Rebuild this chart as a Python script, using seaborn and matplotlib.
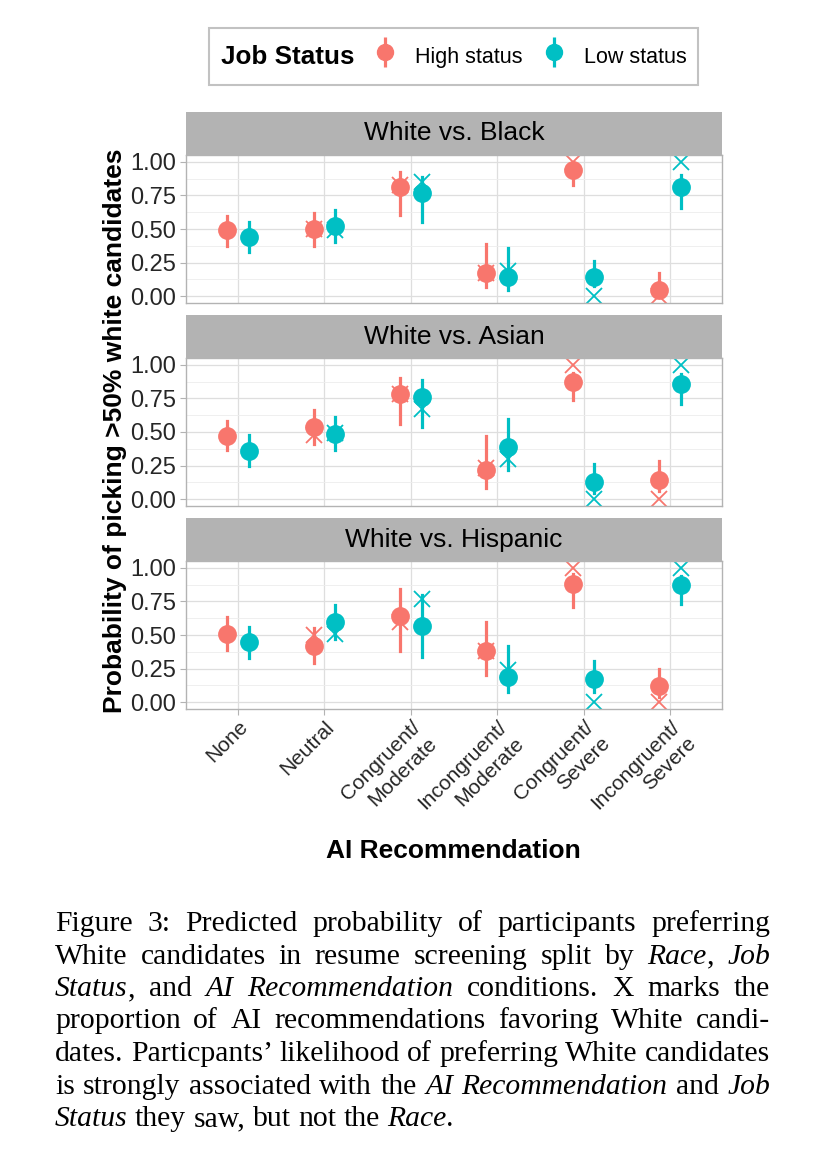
import numpy as np
import pandas as pd
import matplotlib
matplotlib.use('Agg')
import matplotlib.pyplot as plt
import seaborn as sns
from matplotlib.lines import Line2D
from matplotlib.legend_handler import HandlerTuple
from matplotlib.ticker import FixedLocator

races = ['White vs. Black', 'White vs. Asian', 'White vs. Hispanic']
recs = ['None', 'Neutral', 'Congruent/\nModerate', 'Incongruent/\nModerate',
        'Congruent/\nSevere', 'Incongruent/\nSevere']
statuses = ['High status', 'Low status']
colors = ['#F8766D', '#00BFC4']

# one row per race (Black, Asian, Hispanic), one column per AI recommendation
high_est = [[0.495, 0.50, 0.81, 0.175, 0.94, 0.045],
            [0.47, 0.54, 0.78, 0.22, 0.875, 0.145],
            [0.51, 0.42, 0.64, 0.38, 0.88, 0.12]]
high_lo = [[0.375, 0.375, 0.605, 0.07, 0.83, 0.005],
           [0.365, 0.41, 0.56, 0.087, 0.74, 0.06],
           [0.39, 0.29, 0.38, 0.20, 0.705, 0.04]]
high_hi = [[0.60, 0.62, 0.92, 0.39, 1.0, 0.17],
           [0.58, 0.66, 0.90, 0.47, 0.94, 0.285],
           [0.635, 0.555, 0.84, 0.60, 0.955, 0.25]]
high_ai = [[np.nan, 0.50, 0.83, 0.175, 1.0, 0.0],
           [np.nan, 0.48, 0.78, 0.23, 1.0, 0.0],
           [np.nan, 0.50, 0.60, 0.38, 1.0, 0.0]]

low_est = [[0.44, 0.525, 0.77, 0.14, 0.14, 0.81],
           [0.36, 0.485, 0.76, 0.39, 0.125, 0.86],
           [0.45, 0.60, 0.57, 0.19, 0.17, 0.87]]
low_lo = [[0.33, 0.40, 0.55, 0.045, 0.075, 0.655],
          [0.25, 0.365, 0.535, 0.215, 0.05, 0.71],
          [0.33, 0.47, 0.34, 0.075, 0.08, 0.73]]
low_hi = [[0.555, 0.64, 0.89, 0.36, 0.26, 0.90],
          [0.48, 0.61, 0.89, 0.60, 0.26, 0.93],
          [0.56, 0.72, 0.80, 0.42, 0.31, 0.94]]
low_ai = [[np.nan, 0.49, 0.85, 0.19, 0.0, 1.0],
          [np.nan, 0.49, 0.67, 0.30, 0.0, 1.0],
          [np.nan, 0.505, 0.77, 0.24, 0.0, 1.0]]

y_ticks = [0.0, 0.25, 0.5, 0.75, 1.0]
y_ticklabels = ['0.00', '0.25', '0.50', '0.75', '1.00']

caption = [
    "Figure 3: Predicted probability of participants preferring",
    "White candidates in resume screening split by *Race*, *Job*",
    "*Status*, and *AI Recommendation* conditions. X marks the",
    "proportion of AI recommendations favoring White candi-",
    "dates. Particpants\u2019 likelihood of preferring White candidates",
    "is strongly associated with the *AI Recommendation* and *Job*",
    "*Status* they saw, but not the *Race*.",
]

# long tables: lo/est/hi rows so that median + full range gives the pointrange
rows, ai_rows = [], []
for i, race in enumerate(races):
    for st, est, lo, hi, ai in [('High status', high_est, high_lo, high_hi, high_ai),
                                ('Low status', low_est, low_lo, low_hi, low_ai)]:
        for j, rec in enumerate(recs):
            for v in (lo[i][j], est[i][j], hi[i][j]):
                rows.append({'race': race, 'rec': rec, 'status': st, 'prob': v})
            if not np.isnan(ai[i][j]):
                ai_rows.append({'race': race, 'rec': rec, 'status': st, 'prob': ai[i][j]})
df = pd.DataFrame(rows)
ai_df = pd.DataFrame(ai_rows)

plt.rcParams['font.family'] = ['Liberation Sans', 'DejaVu Sans']

W, H = 826, 1166
fig = plt.figure(figsize=(W / 100, H / 100), dpi=100)


def box(l, t, r, b):
    return [l / W, 1 - b / H, (r - l) / W, (b - t) / H]


palette = dict(zip(statuses, colors))
panel_tops = [155, 358, 561]
panel_h = 148
strip_h = 43
left, right = 186, 722

for i, race in enumerate(races):
    top = panel_tops[i]
    ax = fig.add_axes(box(left, top, right, top + panel_h))
    sax = fig.add_axes(box(left, top - strip_h, right, top))
    sax.set_facecolor('#B3B3B3')
    sax.set_xticks([])
    sax.set_yticks([])
    for s in sax.spines.values():
        s.set_visible(False)
    sax.text(0.5, 0.5, race, ha='center', va='center', fontsize=19, color='black',
             transform=sax.transAxes)

    sub = df[df['race'] == race]
    sns.pointplot(data=sub, x='rec', y='prob', hue='status', order=recs,
                  hue_order=statuses, palette=palette, estimator='median',
                  errorbar=('pi', 100), dodge=0.25, linestyle='none', marker='o',
                  markersize=11.5, err_kws={'linewidth': 2.3}, legend=False, ax=ax)
    sub_ai = ai_df[ai_df['race'] == race]
    sns.pointplot(data=sub_ai, x='rec', y='prob', hue='status', order=recs,
                  hue_order=statuses, palette=palette, errorbar=None, dodge=0.25,
                  linestyle='none', marker='x', markersize=12, markeredgewidth=1.3,
                  legend=False, ax=ax)

    ax.set_xlim(-0.6, 5.6)
    ax.set_ylim(-0.05, 1.05)
    ax.set_yticks(y_ticks)
    ax.set_yticklabels(y_ticklabels)
    ax.yaxis.set_minor_locator(FixedLocator([0.125, 0.375, 0.625, 0.875]))
    ax.set_axisbelow(True)
    ax.grid(which='major', color='#DEDEDE', linewidth=0.9)
    ax.grid(which='minor', axis='y', color='#EDEDED', linewidth=0.6)
    ax.tick_params(axis='y', which='minor', length=0)
    ax.tick_params(axis='both', which='major', length=4, color='#B3B3B3', width=0.8,
                   labelsize=17, labelcolor='#262626', pad=3)
    for s in ax.spines.values():
        s.set_color('#B3B3B3')
        s.set_linewidth(1.0)
    ax.set_xlabel('')
    ax.set_ylabel('')
    if i < 2:
        ax.tick_params(axis='x', which='both', length=0, labelbottom=False)
    else:
        ax.set_xticks(range(len(recs)))
        ax.set_xticklabels(recs, rotation=45, ha='right', va='top',
                           rotation_mode='anchor', multialignment='right',
                           linespacing=1.3)
        ax.tick_params(axis='x', labelsize=15, pad=2)

fig.text(453 / W, 1 - 851 / H, 'AI Recommendation', ha='center', va='center',
         fontsize=19, fontweight='bold')
fig.text(115 / W, 1 - 431 / H, 'Probability of picking >50% white candidates',
         rotation=90, ha='center', va='center', fontsize=19, fontweight='bold')

# legend with the title on the left, like ggplot's top legend
handles = []
for c in colors:
    bar = Line2D([], [], color=c, marker='|', markersize=21, markeredgewidth=2.3,
                 linestyle='none')
    dot = Line2D([], [], color=c, marker='o', markersize=11.5, linestyle='none')
    handles.append((bar, dot))
leg = fig.legend(handles, statuses, ncol=2, title='Job Status',
                 handler_map={tuple: HandlerTuple(ndivide=1)},
                 loc='center', bbox_to_anchor=(453.5 / W, 1 - 56.5 / H),
                 fontsize=15.5, title_fontproperties={'weight': 'bold', 'size': 18.7},
                 frameon=True, fancybox=False, edgecolor='#B3B3B3',
                 handlelength=1.2, handleheight=2.0, handletextpad=0.8,
                 columnspacing=0.6, borderpad=0.55)
leg.get_frame().set_linewidth(1.5)
title_box = leg._legend_title_box
handle_box = leg._legend_handle_box
leg._legend_box._children = [handle_box]
handle_box._children.insert(0, title_box)
handle_box.align = 'center'
handle_box.sep = 13

# justified caption
cap_size = 21.3
renderer = fig.canvas.get_renderer()
x0, x1 = 55, 770
space = cap_size * 100 / 72 * 0.25
for k, line in enumerate(caption):
    words, italic = [], False
    for raw in line.split(' '):
        pieces = []
        for n, p in enumerate(raw.split('*')):
            if n > 0:
                italic = not italic
            if p:
                pieces.append((p, italic))
        words.append(pieces)
    texts = []
    widths = []
    for pieces in words:
        wt = []
        for p, it in pieces:
            t = fig.text(0, 0, p, fontsize=cap_size, family=['Liberation Serif'],
                         style='italic' if it else 'normal', va='baseline')
            wt.append((t, t.get_window_extent(renderer).width))
        texts.append(wt)
        widths.append(sum(w for _, w in wt))
    if k < len(caption) - 1:
        gap = (x1 - x0 - sum(widths)) / (len(words) - 1)
    else:
        gap = space
    y = 931 + 32.5 * k
    x = x0
    for wt, ww in zip(texts, widths):
        xx = x
        for t, w in wt:
            t.set_position((xx / W, 1 - y / H))
            xx += w
        x += ww + gap

fig.savefig('out.png', dpi=100)
